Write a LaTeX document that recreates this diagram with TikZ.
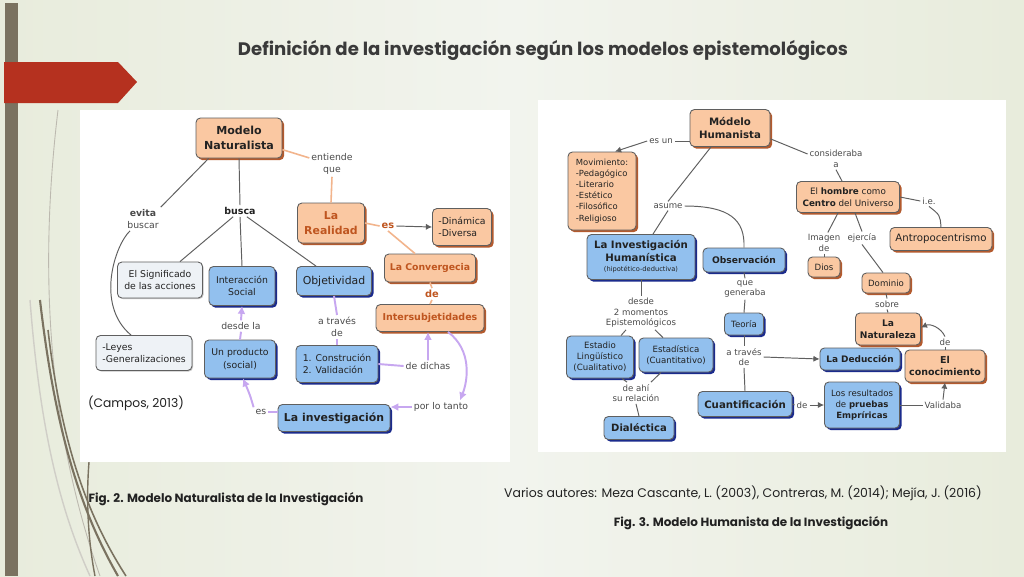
\documentclass[tikz,border=0pt]{standalone}
\usepackage{fontspec}
\setmainfont{DejaVu Sans}
\newfontfamily\slidefont{Poppins}
\usetikzlibrary{shadows,arrows.meta}

\definecolor{slideA}{HTML}{E8ECDC}
\definecolor{slideB}{HTML}{F2F4EE}
\definecolor{barbrown}{HTML}{7A7260}
\definecolor{bannerred}{HTML}{B5311F}
\definecolor{orfill}{HTML}{FAC8A2}
\definecolor{orshade}{HTML}{B35A2E}
\definecolor{ortext}{HTML}{BF551F}
\definecolor{orline}{HTML}{F2B48C}
\definecolor{blfill}{HTML}{92C0EE}
\definecolor{blshade}{HTML}{1B2B8C}
\definecolor{grfill}{HTML}{EEF2F6}
\definecolor{boxline}{HTML}{5F5F5F}
\definecolor{lilac}{HTML}{C7A7F0}
\definecolor{txtdark}{HTML}{222222}
\definecolor{txtgray}{HTML}{4A4A4A}
\definecolor{titlegray}{HTML}{3A3A3A}

\newcommand\fs[2]{\fontsize{#1}{#2}\selectfont}

\tikzset{
  mapbox/.style={draw=boxline, rounded corners=2.5pt, align=center, inner sep=1pt, text=txtdark, line width=0.5pt},
  orbox/.style={mapbox, fill=orfill, drop shadow={shadow xshift=1.2pt, shadow yshift=-1.2pt, fill=orshade, opacity=1}},
  blbox/.style={mapbox, fill=blfill, drop shadow={shadow xshift=1.2pt, shadow yshift=-1.2pt, fill=blshade, opacity=1}},
  grbox/.style={mapbox, fill=grfill, drop shadow={shadow xshift=0.6pt, shadow yshift=-0.6pt, fill=gray!45, opacity=1}},
  phrase/.style={align=center, inner sep=1pt, text=txtgray},
  link/.style={draw=boxline, line width=0.55pt},
  orlink/.style={draw=orline, line width=0.9pt},
  lilink/.style={draw=lilac, line width=1.1pt},
  arr/.style={-{Latex[length=3.5pt,width=3.5pt]}},
  liarr/.style={-{Latex[length=4.5pt,width=4.5pt]}},
}

\begin{document}
\begin{tikzpicture}[x=0.02cm, y=-0.02cm]
  \useasboundingbox (0,0) rectangle (1024,576);

  % slide background
  \shade[left color=slideA, right color=slideA, middle color=slideB] (0,0) rectangle (1024,576);
  \fill[barbrown] (5,3) rectangle (18,576);
  \fill[bannerred] (4,62) -- (118,62) -- (137,82) -- (118,103) -- (4,103) -- cycle;
  \draw[barbrown!50, line width=0.5pt] (58,110) .. controls (40,260) and (45,420) .. (100,576);
  \draw[barbrown!35, line width=0.8pt] (30,300) .. controls (40,430) and (60,510) .. (90,576);
  \draw[barbrown, line width=1.2pt] (40,300) .. controls (55,430) and (80,510) .. (118,576);
  \draw[barbrown, line width=0.9pt] (48,330) .. controls (62,450) and (90,520) .. (126,576);
  \draw[barbrown, line width=0.8pt] (89,462) .. controls (86,500) and (88,540) .. (95,576);

  % panels
  \fill[white] (80,110) rectangle (510,462);
  \fill[white] (538,100) rectangle (1006,452);

  \node[font=\slidefont\fs{10.3}{12}\bfseries, text=titlegray] (title) at (543,50) {Definición de la investigación según los modelos epistemológicos};

  % ---- Modelo Naturalista ----
  \node[orbox, minimum width=1.72cm, minimum height=0.8cm, font=\fs{6.3}{8.3}\bfseries] (mnat) at (239,138) {Modelo\\Naturalista};
  \node[phrase, font=\fs{5.3}{7}] (entiende) at (332,164) {entiende\\que};
  \node[orbox, minimum width=1.34cm, minimum height=0.8cm, font=\fs{6.2}{8.2}\bfseries, text=ortext] (real) at (331,223) {La\\Realidad};
  \node[phrase, font=\fs{5.6}{7}\bfseries, text=ortext] (es1) at (388,226) {es};
  \node[orbox, minimum width=1.18cm, minimum height=0.74cm, font=\fs{5.3}{7}, align=left] (dina) at (462,227) {-Dinámica\\-Diversa};
  \node[orbox, minimum width=1.82cm, minimum height=0.56cm, font=\fs{5.3}{7}\bfseries, text=ortext] (conv) at (430,268) {La Convergecia};
  \node[phrase, font=\fs{5.6}{7}\bfseries, text=ortext] (de1) at (432,294) {de};
  \node[orbox, minimum width=2.16cm, minimum height=0.54cm, font=\fs{5.4}{7}\bfseries, text=ortext] (subj) at (430,318) {Intersubjetidades};

  \node[phrase, font=\fs{5.3}{7}] (evita) at (143,219) {\textbf{evita}\\buscar};
  \node[phrase, font=\fs{5.4}{7}\bfseries, text=txtdark] (busca) at (240,211) {busca};
  \node[grbox, minimum width=1.7cm, minimum height=0.72cm, font=\fs{5.3}{7}] (signif) at (160,280) {El Significado\\de las acciones};
  \node[blbox, minimum width=1.32cm, minimum height=0.78cm, font=\fs{5.3}{7}] (isoc) at (242,286) {Interacción\\Social};
  \node[blbox, minimum width=1.5cm, minimum height=0.58cm, font=\fs{6.2}{7.5}] (obj) at (334,281) {Objetividad};
  \node[grbox, minimum width=1.92cm, minimum height=0.7cm, font=\fs{5.3}{7}, align=left] (leyes) at (144,353) {-Leyes\\-Generalizaciones};
  \node[phrase, font=\fs{5.3}{7}] (desde) at (241,326) {desde la};
  \node[blbox, minimum width=1.42cm, minimum height=0.76cm, font=\fs{5.3}{7}] (prod) at (240,359) {Un producto\\(social)};
  \node[phrase, font=\fs{5.3}{7}] (atrav1) at (337,327) {a través\\de};
  \node[blbox, minimum width=1.64cm, minimum height=0.74cm, font=\fs{5.3}{7}, align=left] (cons) at (337,364) {1. Construción\\2. Validación};
  \node[phrase, font=\fs{5.3}{7}] (dichas) at (428,366) {de dichas};
  \node[blbox, minimum width=2.24cm, minimum height=0.54cm, font=\fs{6.2}{7.5}\bfseries] (inv) at (334,418) {La investigación};
  \node[phrase, font=\fs{5.3}{7}] (portanto) at (441,407) {por lo tanto};
  \node[phrase, font=\fs{5.3}{7}] (es2) at (261,412) {es};
  \node[font=\slidefont\fs{7}{8}, text=txtdark] (campos) at (136,403) {(Campos, 2013)};

  \draw[orlink] (mnat.-15) -- (entiende.165);
  \draw[orlink] (entiende.south) -- (real.north);
  \draw[orlink] (real.east) -- (es1.west);
  \draw[link, arr] (es1.east) -- (dina.west);
  \draw[orlink] (es1.south) -- ([xshift=-0.3cm]conv.north);
  \draw[orlink] (conv.south) -- (de1.north);
  \draw[orlink] (de1.south) -- (subj.north);
  \draw[link] ([xshift=0.26cm]mnat.south west) -- (evita.north east);
  \draw[link] (mnat.south) -- (busca.north);
  \draw[link] (busca.220) -- ([xshift=0.4cm]signif.north);
  \draw[link] (busca.south) -- (isoc.north);
  \draw[link] (busca.-40) -- ([xshift=-0.36cm]obj.north);
  \draw[link] ([xshift=-0.26cm]evita.south) .. controls (115,245) and (95,305) .. ([xshift=-0.26cm]leyes.north);
  \draw[lilink] (prod.north) -- (desde.south);
  \draw[lilink, liarr] (desde.north) -- (isoc.south);
  \draw[lilink] (inv.west |- es2.east) -- (es2.east);
  \draw[lilink, liarr] (es2.north west) .. controls (250,395) .. ([xshift=0.06cm]prod.south);
  \draw[lilink] (obj.south) -- (atrav1.north);
  \draw[lilink] (atrav1.south) -- (cons.north);
  \draw[lilink] (cons.east) -- (dichas.west);
  \draw[lilink, liarr] (dichas.north) -- ([xshift=-0.04cm]subj.south);
  \draw[lilink, liarr] ([xshift=0.36cm]subj.south) .. controls (472,350) and (468,380) .. ([xshift=0.38cm]portanto.north);
  \draw[lilink, liarr] (portanto.west) -- (inv.east |- portanto.west);

  % ---- Modelo Humanista ----
  \node[orbox, minimum width=1.6cm, minimum height=0.74cm, font=\fs{5.8}{7.6}\bfseries] (mhum) at (730,128) {Módelo\\Humanista};
  \node[phrase, font=\fs{4.9}{6}] (esun) at (661,141) {es un};
  \node[orbox, minimum width=1.36cm, minimum height=1.56cm, font=\fs{4.8}{6.3}, align=left] (movi) at (602,191) {Movimiento:\\-Pedagógico\\-Literario\\-Estético\\-Filosófico\\-Religioso};
  \node[phrase, font=\fs{4.9}{6}] (asume) at (668,206) {asume};
  \node[blbox, minimum width=2.16cm, minimum height=0.9cm, font=\fs{5.8}{7}\bfseries] (ihum) at (641,257) {La Investigación\\Humanística\\[-1pt]{\fs{3.8}{4.6}\mdseries (hipotético-deductiva)}};
  \node[blbox, minimum width=1.64cm, minimum height=0.48cm, font=\fs{5.2}{6}\bfseries] (obs) at (744,260) {Observación};
  \node[phrase, font=\fs{4.9}{6}] (consid) at (836,159) {consideraba\\a};
  \node[orbox, minimum width=2.06cm, minimum height=0.62cm, font=\fs{5}{6.6}] (hombre) at (848,197) {El \textbf{hombre} como\\\textbf{Centro} del Universo};
  \node[phrase, font=\fs{4.9}{6}] (ie) at (929,201) {i.e.};
  \node[orbox, minimum width=2.04cm, minimum height=0.46cm, font=\fs{5.8}{7}] (antro) at (941,239) {Antropocentrismo};
  \node[phrase, font=\fs{4.9}{6}] (imagen) at (824,243) {Imagen\\de};
  \node[orbox, minimum width=0.64cm, minimum height=0.4cm, font=\fs{4.9}{6}] (dios) at (824,267) {Dios};
  \node[phrase, font=\fs{4.9}{6}] (ejercia) at (862,238) {ejercía};
  \node[orbox, minimum width=0.96cm, minimum height=0.4cm, font=\fs{4.9}{6}] (domi) at (886,283) {Dominio};
  \node[phrase, font=\fs{4.9}{6}] (sobre) at (887,304) {sobre};
  \node[orbox, minimum width=1.3cm, minimum height=0.64cm, font=\fs{5.2}{7}\bfseries] (natu) at (888,329) {La\\Naturaleza};
  \node[phrase, font=\fs{4.9}{6}] (de2) at (945,342) {de};
  \node[orbox, minimum width=1.6cm, minimum height=0.64cm, font=\fs{5.4}{7.2}\bfseries] (conoc) at (945,366) {El\\conocimiento};
  \node[phrase, font=\fs{4.9}{6}] (valida) at (943,405) {Validaba};
  \node[blbox, minimum width=1.5cm, minimum height=0.92cm, font=\fs{4.9}{6.2}] (resul) at (862,405) {Los resultados\\de \textbf{pruebas}\\\textbf{Empríricas}};
  \node[blbox, minimum width=1.88cm, minimum height=0.5cm, font=\fs{5.8}{7}\bfseries] (cuan) at (745,404) {Cuantificación};
  \node[phrase, font=\fs{4.9}{6}] (de3) at (802,405) {de};
  \node[phrase, font=\fs{4.9}{6}] (genera) at (745,289) {que\\generaba};
  \node[blbox, minimum width=0.78cm, minimum height=0.44cm, font=\fs{4.9}{6}] (teor) at (744,324) {Teoría};
  \node[phrase, font=\fs{4.9}{6}] (atrav2) at (744,357) {a través\\de};
  \node[blbox, minimum width=1.6cm, minimum height=0.44cm, font=\fs{5.1}{6}\bfseries] (dedu) at (860,359) {La Deducción};
  \node[phrase, font=\fs{4.9}{6}] (momentos) at (641,313) {desde\\2 momentos\\Epistemológicos};
  \node[blbox, minimum width=1.34cm, minimum height=0.84cm, font=\fs{4.9}{6.1}] (estl) at (600,357) {Estadio\\Lingüístico\\(Cualitativo)};
  \node[blbox, minimum width=1.48cm, minimum height=0.68cm, font=\fs{4.9}{6.1}] (estc) at (676,355) {Estadística\\(Cuantitativo)};
  \node[phrase, font=\fs{4.9}{6}] (ahi) at (636,393) {de ahí\\su relación};
  \node[blbox, minimum width=1.4cm, minimum height=0.46cm, font=\fs{5.7}{7}\bfseries] (dial) at (639,428) {Dialéctica};

  \draw[link] (mhum.west |- esun.east) -- (esun.east);
  \draw[link, arr] (esun.west) -- ([xshift=0.26cm]movi.north);
  \draw[link] ([xshift=-0.38cm]mhum.south) -- (asume.north);
  \draw[link] (asume.south) -- ([xshift=0.24cm]ihum.north);
  \draw[link] (asume.east) .. controls (730,206) and (745,220) .. (obs.north);
  \draw[link] (mhum.-15) -- (consid.170);
  \draw[link] (consid.south) -- ([xshift=-0.12cm]hombre.north);
  \draw[link] (hombre.east) -- (ie.west);
  \draw[link] (ie.south) .. controls (940,215) .. (antro.north);
  \draw[link] ([xshift=-0.2cm]hombre.south) -- (imagen.70);
  \draw[link] (imagen.south) -- (dios.north);
  \draw[link] ([xshift=0.14cm]hombre.south) -- (ejercia.north);
  \draw[link] (ejercia.south) -- ([xshift=-0.06cm]domi.north);
  \draw[link] (domi.south) -- (sobre.north);
  \draw[link] (sobre.south) -- (natu.north);
  \draw[link] (conoc.north) -- (de2.south);
  \draw[link, arr] (de2.north) to[bend right=45] ([yshift=0.03cm]natu.east);
  \draw[link] (resul.east) -- (valida.west);
  \draw[link, arr] (valida.north) -- (conoc.south);
  \draw[link] (cuan.east) -- (de3.west);
  \draw[link, arr] (de3.east) -- (resul.west);
  \draw[link] (obs.south) -- (genera.north);
  \draw[link] (genera.south) -- (teor.north);
  \draw[link] (teor.south) -- (atrav2.north);
  \draw[link] (atrav2.south) -- (cuan.north);
  \draw[link, arr] (atrav2.east) -- (dedu.west);
  \draw[link] (ihum.south) -- (momentos.north);
  \draw[link] ([xshift=-0.3cm]momentos.south) -- ([xshift=0.42cm]estl.north);
  \draw[link] ([xshift=0.28cm]momentos.south) -- ([xshift=-0.26cm]estc.north);
  \draw[link] ([xshift=0.44cm]estl.south) -- ([xshift=-0.18cm]ahi.north);
  \draw[link] ([xshift=-0.3cm]estc.south) -- ([xshift=0.3cm]ahi.north);
  \draw[link] (ahi.south) -- (dial.north);

  % captions
  \node[font=\slidefont\fs{6.8}{8}\bfseries, text=txtdark] (fig2) at (226,499) {Fig. 2. Modelo Naturalista de la Investigación};
  \node[font=\slidefont\fs{7.1}{8}, text=txtdark] (autores) at (743,493) {Varios autores: Meza Cascante, L. (2003), Contreras, M. (2014); Mejía, J. (2016)};
  \node[font=\slidefont\fs{6.8}{8}\bfseries, text=txtdark] (fig3) at (751,523) {Fig. 3. Modelo Humanista de la Investigación};
\end{tikzpicture}
\end{document}
